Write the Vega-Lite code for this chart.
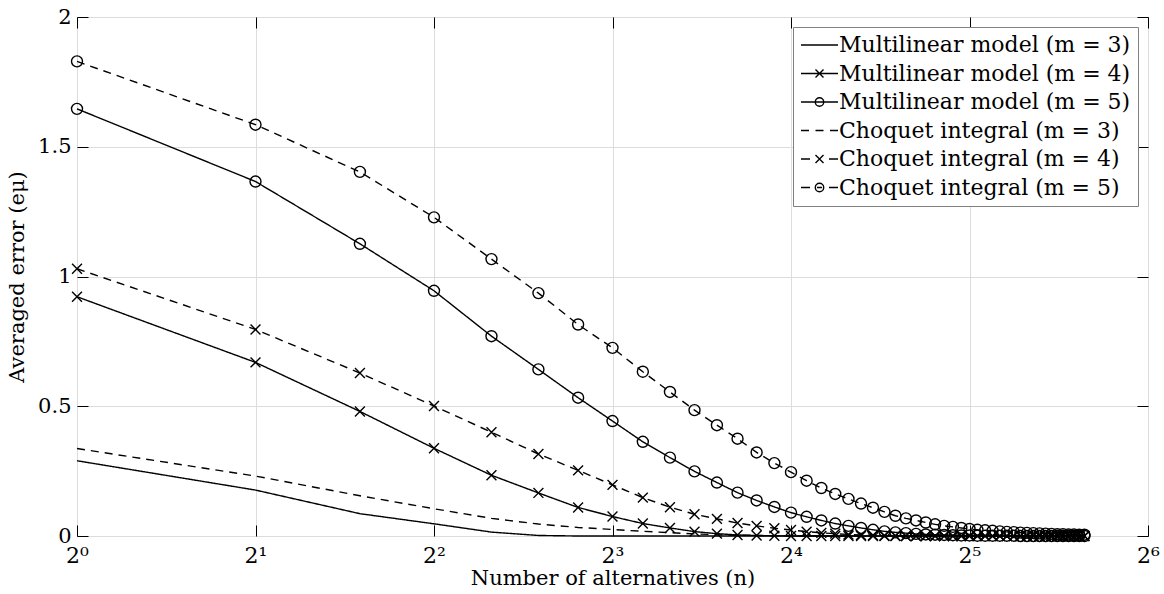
{
  "$schema": "https://vega.github.io/schema/vega-lite/v6.json",
  "autosize": {"type": "none"},
  "padding": {"left": 77, "top": 17, "right": 16, "bottom": 58},
  "width": 1071,
  "height": 519,
  "background": "white",
  "config": {
    "font": "DejaVu Serif",
    "view": {"stroke": "black", "strokeWidth": 1},
    "axis": {
      "labelFont": "DejaVu Serif",
      "titleFont": "DejaVu Serif",
      "labelColor": "black",
      "titleColor": "black",
      "labelFontSize": 21,
      "titleFontSize": 21,
      "titleFontWeight": "normal",
      "labelFlush": false,
      "domain": false,
      "tickColor": "black",
      "tickSize": -11,
      "tickWidth": 1,
      "gridColor": "#dcdcdc",
      "gridWidth": 1
    }
  },
  "data": {
    "values": [
      {"n":1,"s":"ML3","e":0.290},{"n":2,"s":"ML3","e":0.177},{"n":3,"s":"ML3","e":0.086},{"n":4,"s":"ML3","e":0.047},{"n":5,"s":"ML3","e":0.015},
      {"n":6,"s":"ML3","e":0.002},{"n":7,"s":"ML3","e":0},{"n":8,"s":"ML3","e":0},{"n":9,"s":"ML3","e":0},{"n":10,"s":"ML3","e":0},
      {"n":11,"s":"ML3","e":0},{"n":12,"s":"ML3","e":0},{"n":13,"s":"ML3","e":0},{"n":14,"s":"ML3","e":0},{"n":15,"s":"ML3","e":0},
      {"n":16,"s":"ML3","e":0},{"n":17,"s":"ML3","e":0},{"n":18,"s":"ML3","e":0},{"n":19,"s":"ML3","e":0},{"n":20,"s":"ML3","e":0},
      {"n":21,"s":"ML3","e":0},{"n":22,"s":"ML3","e":0},{"n":23,"s":"ML3","e":0},{"n":24,"s":"ML3","e":0},{"n":25,"s":"ML3","e":0},
      {"n":26,"s":"ML3","e":0},{"n":27,"s":"ML3","e":0},{"n":28,"s":"ML3","e":0},{"n":29,"s":"ML3","e":0},{"n":30,"s":"ML3","e":0},
      {"n":31,"s":"ML3","e":0},{"n":32,"s":"ML3","e":0},{"n":33,"s":"ML3","e":0},{"n":34,"s":"ML3","e":0},{"n":35,"s":"ML3","e":0},
      {"n":36,"s":"ML3","e":0},{"n":37,"s":"ML3","e":0},{"n":38,"s":"ML3","e":0},{"n":39,"s":"ML3","e":0},{"n":40,"s":"ML3","e":0},
      {"n":41,"s":"ML3","e":0},{"n":42,"s":"ML3","e":0},{"n":43,"s":"ML3","e":0},{"n":44,"s":"ML3","e":0},{"n":45,"s":"ML3","e":0},
      {"n":46,"s":"ML3","e":0},{"n":47,"s":"ML3","e":0},{"n":48,"s":"ML3","e":0},{"n":49,"s":"ML3","e":0},{"n":50,"s":"ML3","e":0},

      {"n":1,"s":"ML4","e":0.922},{"n":2,"s":"ML4","e":0.669},{"n":3,"s":"ML4","e":0.480},{"n":4,"s":"ML4","e":0.338},{"n":5,"s":"ML4","e":0.234},
      {"n":6,"s":"ML4","e":0.166},{"n":7,"s":"ML4","e":0.110},{"n":8,"s":"ML4","e":0.075},{"n":9,"s":"ML4","e":0.048},{"n":10,"s":"ML4","e":0.031},
      {"n":11,"s":"ML4","e":0.017},{"n":12,"s":"ML4","e":0.009},{"n":13,"s":"ML4","e":0.004},{"n":14,"s":"ML4","e":0.002},{"n":15,"s":"ML4","e":0.001},
      {"n":16,"s":"ML4","e":0},{"n":17,"s":"ML4","e":0},{"n":18,"s":"ML4","e":0},{"n":19,"s":"ML4","e":0},{"n":20,"s":"ML4","e":0},
      {"n":21,"s":"ML4","e":0},{"n":22,"s":"ML4","e":0},{"n":23,"s":"ML4","e":0},{"n":24,"s":"ML4","e":0},{"n":25,"s":"ML4","e":0},
      {"n":26,"s":"ML4","e":0},{"n":27,"s":"ML4","e":0},{"n":28,"s":"ML4","e":0},{"n":29,"s":"ML4","e":0},{"n":30,"s":"ML4","e":0},
      {"n":31,"s":"ML4","e":0},{"n":32,"s":"ML4","e":0},{"n":33,"s":"ML4","e":0},{"n":34,"s":"ML4","e":0},{"n":35,"s":"ML4","e":0},
      {"n":36,"s":"ML4","e":0},{"n":37,"s":"ML4","e":0},{"n":38,"s":"ML4","e":0},{"n":39,"s":"ML4","e":0},{"n":40,"s":"ML4","e":0},
      {"n":41,"s":"ML4","e":0},{"n":42,"s":"ML4","e":0},{"n":43,"s":"ML4","e":0},{"n":44,"s":"ML4","e":0},{"n":45,"s":"ML4","e":0},
      {"n":46,"s":"ML4","e":0},{"n":47,"s":"ML4","e":0},{"n":48,"s":"ML4","e":0},{"n":49,"s":"ML4","e":0},{"n":50,"s":"ML4","e":0},

      {"n":1,"s":"ML5","e":1.646},{"n":2,"s":"ML5","e":1.366},{"n":3,"s":"ML5","e":1.126},{"n":4,"s":"ML5","e":0.945},{"n":5,"s":"ML5","e":0.770},
      {"n":6,"s":"ML5","e":0.642},{"n":7,"s":"ML5","e":0.533},{"n":8,"s":"ML5","e":0.443},{"n":9,"s":"ML5","e":0.363},{"n":10,"s":"ML5","e":0.302},
      {"n":11,"s":"ML5","e":0.249},{"n":12,"s":"ML5","e":0.206},{"n":13,"s":"ML5","e":0.167},{"n":14,"s":"ML5","e":0.137},{"n":15,"s":"ML5","e":0.112},
      {"n":16,"s":"ML5","e":0.090},{"n":17,"s":"ML5","e":0.074},{"n":18,"s":"ML5","e":0.060},{"n":19,"s":"ML5","e":0.048},{"n":20,"s":"ML5","e":0.039},
      {"n":21,"s":"ML5","e":0.031},{"n":22,"s":"ML5","e":0.024},{"n":23,"s":"ML5","e":0.018},{"n":24,"s":"ML5","e":0.014},{"n":25,"s":"ML5","e":0.011},
      {"n":26,"s":"ML5","e":0.008},{"n":27,"s":"ML5","e":0.006},{"n":28,"s":"ML5","e":0.005},{"n":29,"s":"ML5","e":0.004},{"n":30,"s":"ML5","e":0.003},
      {"n":31,"s":"ML5","e":0.002},{"n":32,"s":"ML5","e":0.002},{"n":33,"s":"ML5","e":0.001},{"n":34,"s":"ML5","e":0.001},{"n":35,"s":"ML5","e":0.001},
      {"n":36,"s":"ML5","e":0.001},{"n":37,"s":"ML5","e":0.001},{"n":38,"s":"ML5","e":0.001},{"n":39,"s":"ML5","e":0},{"n":40,"s":"ML5","e":0},
      {"n":41,"s":"ML5","e":0},{"n":42,"s":"ML5","e":0},{"n":43,"s":"ML5","e":0},{"n":44,"s":"ML5","e":0},{"n":45,"s":"ML5","e":0},
      {"n":46,"s":"ML5","e":0},{"n":47,"s":"ML5","e":0},{"n":48,"s":"ML5","e":0},{"n":49,"s":"ML5","e":0},{"n":50,"s":"ML5","e":0},

      {"n":1,"s":"CQ3","e":0.337},{"n":2,"s":"CQ3","e":0.231},{"n":3,"s":"CQ3","e":0.155},{"n":4,"s":"CQ3","e":0.105},{"n":5,"s":"CQ3","e":0.068},
      {"n":6,"s":"CQ3","e":0.046},{"n":7,"s":"CQ3","e":0.033},{"n":8,"s":"CQ3","e":0.025},{"n":9,"s":"CQ3","e":0.018},{"n":10,"s":"CQ3","e":0.013},
      {"n":11,"s":"CQ3","e":0.008},{"n":12,"s":"CQ3","e":0.005},{"n":13,"s":"CQ3","e":0.003},{"n":14,"s":"CQ3","e":0.002},{"n":15,"s":"CQ3","e":0.001},
      {"n":16,"s":"CQ3","e":0},{"n":17,"s":"CQ3","e":0},{"n":18,"s":"CQ3","e":0},{"n":19,"s":"CQ3","e":0},{"n":20,"s":"CQ3","e":0},
      {"n":21,"s":"CQ3","e":0},{"n":22,"s":"CQ3","e":0},{"n":23,"s":"CQ3","e":0},{"n":24,"s":"CQ3","e":0},{"n":25,"s":"CQ3","e":0},
      {"n":26,"s":"CQ3","e":0},{"n":27,"s":"CQ3","e":0},{"n":28,"s":"CQ3","e":0},{"n":29,"s":"CQ3","e":0},{"n":30,"s":"CQ3","e":0},
      {"n":31,"s":"CQ3","e":0},{"n":32,"s":"CQ3","e":0},{"n":33,"s":"CQ3","e":0},{"n":34,"s":"CQ3","e":0},{"n":35,"s":"CQ3","e":0},
      {"n":36,"s":"CQ3","e":0},{"n":37,"s":"CQ3","e":0},{"n":38,"s":"CQ3","e":0},{"n":39,"s":"CQ3","e":0},{"n":40,"s":"CQ3","e":0},
      {"n":41,"s":"CQ3","e":0},{"n":42,"s":"CQ3","e":0},{"n":43,"s":"CQ3","e":0},{"n":44,"s":"CQ3","e":0},{"n":45,"s":"CQ3","e":0},
      {"n":46,"s":"CQ3","e":0},{"n":47,"s":"CQ3","e":0},{"n":48,"s":"CQ3","e":0},{"n":49,"s":"CQ3","e":0},{"n":50,"s":"CQ3","e":0},

      {"n":1,"s":"CQ4","e":1.030},{"n":2,"s":"CQ4","e":0.796},{"n":3,"s":"CQ4","e":0.628},{"n":4,"s":"CQ4","e":0.501},{"n":5,"s":"CQ4","e":0.400},
      {"n":6,"s":"CQ4","e":0.316},{"n":7,"s":"CQ4","e":0.253},{"n":8,"s":"CQ4","e":0.197},{"n":9,"s":"CQ4","e":0.148},{"n":10,"s":"CQ4","e":0.111},
      {"n":11,"s":"CQ4","e":0.084},{"n":12,"s":"CQ4","e":0.066},{"n":13,"s":"CQ4","e":0.050},{"n":14,"s":"CQ4","e":0.039},{"n":15,"s":"CQ4","e":0.030},
      {"n":16,"s":"CQ4","e":0.023},{"n":17,"s":"CQ4","e":0.017},{"n":18,"s":"CQ4","e":0.012},{"n":19,"s":"CQ4","e":0.009},{"n":20,"s":"CQ4","e":0.006},
      {"n":21,"s":"CQ4","e":0.004},{"n":22,"s":"CQ4","e":0.003},{"n":23,"s":"CQ4","e":0.002},{"n":24,"s":"CQ4","e":0.001},{"n":25,"s":"CQ4","e":0},
      {"n":26,"s":"CQ4","e":0},{"n":27,"s":"CQ4","e":0},{"n":28,"s":"CQ4","e":0},{"n":29,"s":"CQ4","e":0},{"n":30,"s":"CQ4","e":0},
      {"n":31,"s":"CQ4","e":0},{"n":32,"s":"CQ4","e":0},{"n":33,"s":"CQ4","e":0},{"n":34,"s":"CQ4","e":0},{"n":35,"s":"CQ4","e":0},
      {"n":36,"s":"CQ4","e":0},{"n":37,"s":"CQ4","e":0},{"n":38,"s":"CQ4","e":0},{"n":39,"s":"CQ4","e":0},{"n":40,"s":"CQ4","e":0},
      {"n":41,"s":"CQ4","e":0},{"n":42,"s":"CQ4","e":0},{"n":43,"s":"CQ4","e":0},{"n":44,"s":"CQ4","e":0},{"n":45,"s":"CQ4","e":0},
      {"n":46,"s":"CQ4","e":0},{"n":47,"s":"CQ4","e":0},{"n":48,"s":"CQ4","e":0},{"n":49,"s":"CQ4","e":0},{"n":50,"s":"CQ4","e":0},

      {"n":1,"s":"CQ5","e":1.829},{"n":2,"s":"CQ5","e":1.585},{"n":3,"s":"CQ5","e":1.403},{"n":4,"s":"CQ5","e":1.228},{"n":5,"s":"CQ5","e":1.067},
      {"n":6,"s":"CQ5","e":0.936},{"n":7,"s":"CQ5","e":0.815},{"n":8,"s":"CQ5","e":0.725},{"n":9,"s":"CQ5","e":0.633},{"n":10,"s":"CQ5","e":0.555},
      {"n":11,"s":"CQ5","e":0.485},{"n":12,"s":"CQ5","e":0.427},{"n":13,"s":"CQ5","e":0.375},{"n":14,"s":"CQ5","e":0.322},{"n":15,"s":"CQ5","e":0.281},
      {"n":16,"s":"CQ5","e":0.246},{"n":17,"s":"CQ5","e":0.213},{"n":18,"s":"CQ5","e":0.185},{"n":19,"s":"CQ5","e":0.162},{"n":20,"s":"CQ5","e":0.143},
      {"n":21,"s":"CQ5","e":0.125},{"n":22,"s":"CQ5","e":0.109},{"n":23,"s":"CQ5","e":0.093},{"n":24,"s":"CQ5","e":0.078},{"n":25,"s":"CQ5","e":0.068},
      {"n":26,"s":"CQ5","e":0.060},{"n":27,"s":"CQ5","e":0.052},{"n":28,"s":"CQ5","e":0.045},{"n":29,"s":"CQ5","e":0.039},{"n":30,"s":"CQ5","e":0.035},
      {"n":31,"s":"CQ5","e":0.031},{"n":32,"s":"CQ5","e":0.027},{"n":33,"s":"CQ5","e":0.024},{"n":34,"s":"CQ5","e":0.022},{"n":35,"s":"CQ5","e":0.020},
      {"n":36,"s":"CQ5","e":0.018},{"n":37,"s":"CQ5","e":0.016},{"n":38,"s":"CQ5","e":0.015},{"n":39,"s":"CQ5","e":0.013},{"n":40,"s":"CQ5","e":0.012},
      {"n":41,"s":"CQ5","e":0.011},{"n":42,"s":"CQ5","e":0.010},{"n":43,"s":"CQ5","e":0.009},{"n":44,"s":"CQ5","e":0.008},{"n":45,"s":"CQ5","e":0.007},
      {"n":46,"s":"CQ5","e":0.007},{"n":47,"s":"CQ5","e":0.006},{"n":48,"s":"CQ5","e":0.006},{"n":49,"s":"CQ5","e":0.005},{"n":50,"s":"CQ5","e":0.005}
    ]
  },
  "layer": [
    {
      "mark": {"type": "line", "color": "black", "strokeWidth": 1.4},
      "encoding": {
        "x": {
          "field": "n", "type": "quantitative",
          "scale": {"type": "log", "base": 2, "domain": [1, 64], "nice": false},
          "axis": {
            "title": "Number of alternatives (n)",
            "values": [1, 2, 4, 8, 16, 32, 64],
            "labelExpr": "'2' + ['⁰','¹','²','³','⁴','⁵','⁶'][round(log(datum.value) / log(2))]",
            "labelFontSize": 22,
            "labelPadding": 20,
            "titlePadding": 1
          }
        },
        "y": {
          "field": "e", "type": "quantitative",
          "scale": {"domain": [0, 2], "nice": false},
          "axis": {
            "title": "Averaged error (eμ)",
            "values": [0, 0.5, 1, 1.5, 2],
            "format": "~g",
            "labelPadding": 17,
            "titlePadding": 10
          }
        },
        "strokeDash": {
          "field": "s", "type": "nominal",
          "scale": {
            "domain": ["ML3", "ML4", "ML5", "CQ3", "CQ4", "CQ5"],
            "range": [[1, 0], [1, 0], [1, 0], [8, 6], [8, 6], [8, 6]]
          },
          "legend": null
        }
      }
    },
    {
      "transform": [{"filter": {"field": "s", "oneOf": ["ML4", "ML5", "CQ4", "CQ5"]}}],
      "mark": {"type": "point", "filled": false, "color": "black", "strokeWidth": 1.4, "size": 121, "opacity": 1},
      "encoding": {
        "x": {"field": "n", "type": "quantitative", "axis": null},
        "y": {"field": "e", "type": "quantitative", "axis": null},
        "shape": {
          "field": "s", "type": "nominal",
          "scale": {
            "domain": ["ML4", "ML5", "CQ4", "CQ5"],
            "range": ["M-0.9,-0.9L0.9,0.9M-0.9,0.9L0.9,-0.9", "circle", "M-0.9,-0.9L0.9,0.9M-0.9,0.9L0.9,-0.9", "circle"]
          },
          "legend": null
        }
      }
    },
    {
      "transform": [{"filter": "datum.n == 1"}],
      "mark": {"type": "point", "filled": false, "color": "black", "opacity": 0, "size": 400},
      "encoding": {
        "x": {"field": "n", "type": "quantitative", "axis": null},
        "y": {"field": "e", "type": "quantitative", "axis": null},
        "shape": {
          "field": "s", "type": "nominal",
          "scale": {
            "domain": ["ML3", "ML4", "ML5", "CQ3", "CQ4", "CQ5"],
            "range": [
              "M-1,0H2.7",
              "M-1,0H2.7M0.45,-0.4L1.25,0.4M0.45,0.4L1.25,-0.4",
              "M-1,0H2.7M1.27,0A0.42,0.42,0,1,1,0.43,0A0.42,0.42,0,1,1,1.27,0",
              "M-1,0H-0.2M0.45,0H1.25M1.9,0H2.7",
              "M-1,0H-0.1M1.8,0H2.7M0.45,-0.4L1.25,0.4M0.45,0.4L1.25,-0.4",
              "M-1,0H-0.1M1.8,0H2.7M0.6,0H1.1M1.27,0A0.42,0.42,0,1,1,0.43,0A0.42,0.42,0,1,1,1.27,0"
            ]
          },
          "legend": {
            "title": null,
            "orient": "top-right",
            "offset": 10,
            "labelExpr": "{'ML3':'Multilinear model (m = 3)','ML4':'Multilinear model (m = 4)','ML5':'Multilinear model (m = 5)','CQ3':'Choquet integral (m = 3)','CQ4':'Choquet integral (m = 4)','CQ5':'Choquet integral (m = 5)'}[datum.label]",
            "labelFont": "DejaVu Serif",
            "labelFontSize": 22,
            "labelColor": "black",
            "labelLimit": 500,
            "labelOffset": 17,
            "symbolSize": 400,
            "symbolOpacity": 1,
            "symbolStrokeColor": "black",
            "symbolFillColor": "transparent",
            "symbolStrokeWidth": 1.4,
            "rowPadding": 6.5,
            "padding": 7,
            "strokeColor": "#808080",
            "fillColor": "white",
            "cornerRadius": 0
          }
        }
      }
    },
    {
      "mark": {"type": "point", "opacity": 0},
      "encoding": {
        "x": {
          "field": "n", "type": "quantitative",
          "axis": {"orient": "top", "values": [1, 2, 4, 8, 16, 32, 64], "labels": false, "grid": false, "title": null}
        },
        "y": {
          "field": "e", "type": "quantitative",
          "axis": {"orient": "right", "values": [0, 0.5, 1, 1.5, 2], "labels": false, "grid": false, "title": null}
        }
      }
    }
  ],
  "resolve": {
    "scale": {"shape": "independent"},
    "axis": {"x": "independent", "y": "independent"}
  }
}
